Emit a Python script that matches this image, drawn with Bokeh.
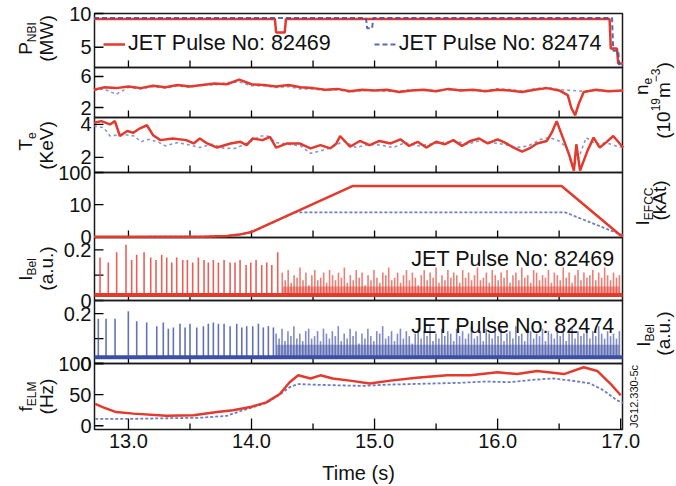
import numpy as np
from math import pi
from bokeh.plotting import figure
from bokeh.models import (Range1d, Label, LabelSet, ColumnDataSource, Legend, LegendItem)
from bokeh.embed import file_html
from bokeh.resources import INLINE
from bokeh.core.properties import value

FONT = "Liberation Sans"
RED = "#e23a2c"
BLUE = "#3d4fa3"
BLUE_LIGHT = "#6f7cbf"
INK = "#111111"

# ---------------- data ----------------
# NBI power (MW)
pnbi_t_82469 = [12.72, 14.19, 14.20, 14.27, 14.28, 16.91, 16.92, 16.97, 16.98, 17.02]
pnbi_82469 = [9.2, 9.2, 7.2, 7.2, 9.2, 9.2, 4.8, 4.8, 2.6, 2.6]
pnbi_t_82474 = [12.72, 14.93, 14.94, 14.98, 14.99, 16.93, 16.94, 16.98, 16.99, 17.02]
pnbi_82474 = [9.35, 9.35, 7.8, 7.8, 9.35, 9.35, 4.5, 4.5, 2.3, 2.3]

# line averaged density (10^19 m^-3)
ne_t_82469 = [12.72, 12.8, 12.9, 13.0, 13.1, 13.2, 13.3, 13.4, 13.5, 13.6, 13.7, 13.8,
              13.9, 14.0, 14.1, 14.2, 14.3, 14.4, 14.5, 14.6, 14.7, 14.8, 14.9, 15.0,
              15.1, 15.2, 15.3, 15.4, 15.5, 15.6, 15.7, 15.8, 15.9, 16.0, 16.1, 16.2,
              16.3, 16.4, 16.5, 16.57, 16.6, 16.63, 16.66, 16.7, 16.8, 16.9, 17.02]
ne_82469 = [4.3, 4.6, 4.5, 4.7, 4.5, 4.8, 4.6, 4.9, 4.7, 4.9, 5.1, 5.0,
            5.6, 5.0, 4.9, 4.7, 4.9, 4.6, 4.5, 4.3, 4.4, 4.1, 4.3, 4.2,
            4.3, 4.0, 4.2, 4.3, 4.1, 4.4, 4.2, 4.3, 4.1, 4.3, 4.2, 4.0,
            4.3, 4.5, 4.2, 3.6, 1.9, 1.0, 2.5, 4.0, 4.3, 4.1, 4.2]
ne_t_82474 = [12.72, 12.8, 12.9, 13.0, 13.1, 13.2, 13.3, 13.4, 13.5, 13.6, 13.7, 13.8,
              13.9, 14.0, 14.1, 14.2, 14.3, 14.4, 14.5, 14.6, 14.7, 14.8, 14.9, 15.0,
              15.1, 15.2, 15.3, 15.4, 15.5, 15.6, 15.7, 15.8, 15.9, 16.0, 16.1, 16.2,
              16.3, 16.4, 16.5, 16.6, 16.7, 16.8, 16.9, 17.02]
ne_82474 = [4.2, 4.4, 3.7, 4.6, 4.4, 4.7, 4.5, 4.8, 4.6, 5.0, 4.9, 5.2,
            5.3, 4.8, 4.8, 4.6, 4.7, 4.4, 4.4, 4.2, 4.3, 4.0, 4.2, 4.2,
            4.1, 4.1, 4.3, 4.2, 4.2, 4.3, 4.3, 4.2, 4.2, 4.4, 4.3, 4.1,
            4.4, 4.6, 4.3, 4.2, 4.1, 4.2, 4.1, 4.2]

# electron temperature (keV)
te_t_82469 = [12.72, 12.78, 12.85, 12.89, 12.93, 12.99, 13.04, 13.09, 13.15, 13.20,
              13.26, 13.36, 13.47, 13.53, 13.58, 13.64, 13.72, 13.83, 13.91, 13.96,
              14.01, 14.09, 14.15, 14.20, 14.29, 14.39, 14.48, 14.56, 14.64, 14.69,
              14.72, 14.80, 14.88, 14.96, 15.04, 15.13, 15.21, 15.28, 15.35, 15.42,
              15.50, 15.57, 15.64, 15.71, 15.78, 15.85, 15.92, 16.00, 16.06, 16.13,
              16.20, 16.27, 16.32, 16.40, 16.44, 16.48, 16.53, 16.58, 16.62, 16.64,
              16.67, 16.73, 16.78, 16.83, 16.88, 16.94, 17.02]
te_82469 = [4.1, 4.2, 4.0, 4.2, 3.3, 3.6, 3.5, 3.75, 3.95, 3.35,
            3.05, 3.15, 3.05, 2.85, 3.15, 2.85, 2.6, 2.85, 2.95, 2.75,
            3.15, 3.05, 3.25, 2.6, 2.85, 2.85, 2.55, 2.75, 2.55, 2.85,
            3.3, 2.65, 3.0, 2.75, 3.0, 2.85, 3.1, 2.7, 2.95, 2.6,
            2.95, 2.8, 3.05, 2.7, 3.0, 3.15, 2.85, 3.1, 2.9, 2.6,
            2.35, 2.6, 2.85, 3.0, 3.5, 4.2, 3.2, 2.2, 1.2, 2.8,
            1.2, 2.4, 3.2, 2.6, 2.9, 3.3, 2.6]
te_t_82474 = [12.72, 12.8, 12.85, 12.95, 13.05, 13.1, 13.17, 13.25, 13.3, 13.4,
              13.5, 13.58, 13.68, 13.78, 13.87, 13.93, 14.0, 14.07, 14.13, 14.2,
              14.3, 14.4, 14.48, 14.56, 14.65, 14.75, 14.85, 14.95, 15.05, 15.15,
              15.25, 15.35, 15.45, 15.55, 15.65, 15.75, 15.85, 15.95, 16.05, 16.15,
              16.25, 16.35, 16.42, 16.5, 16.56, 16.61, 16.66, 16.72, 16.8, 16.88,
              16.96, 17.02]
te_82474 = [3.9, 3.8, 3.3, 3.4, 3.3, 2.95, 3.1, 2.9, 2.7, 2.9,
            2.75, 2.6, 2.8, 2.55, 2.55, 2.75, 3.0, 3.3, 3.3, 2.9,
            2.8, 2.7, 2.25, 2.4, 2.6, 3.0, 2.6, 2.8, 2.75, 2.6,
            2.9, 2.7, 2.8, 2.9, 3.0, 2.8, 3.0, 2.9, 2.8, 2.6,
            2.7, 3.1, 3.2, 3.0, 2.6, 1.4, 2.0, 3.2, 2.8, 2.9,
            2.7, 2.6]

# error field correction coil current (kAt)
efcc_t_82469 = [12.72, 13.6, 13.8, 13.9, 14.0, 14.82, 16.52, 17.0, 17.02]
efcc_82469 = [0.0, 0.05, 0.3, 0.7, 1.5, 15.8, 15.8, 0.4, 0.3]
efcc_t_82474 = [12.72, 13.6, 13.8, 13.9, 14.0, 14.35, 16.55, 16.97, 17.02]
efcc_82474 = [0.0, 0.05, 0.3, 0.7, 1.5, 7.6, 7.6, 1.2, 0.6]

# Be I emission (a.u.): baseline level, ELM peaks and the level of the dense ELM band
bel_base_82469 = 0.022
bel_base_82474 = 0.025
band_82469 = 0.055
band_82474 = 0.075
elm_t_82469 = [12.769, 12.836, 12.904, 12.980, 13.026, 13.067, 13.127, 13.181,
               13.224, 13.270, 13.311, 13.352, 13.392, 13.441, 13.479, 13.522,
               13.568, 13.614, 13.649, 13.690, 13.731, 13.777, 13.826, 13.866,
               13.907, 13.956, 13.994, 14.037, 14.083, 14.124, 14.165, 14.213]
elm_82469 = [0.17, 0.15, 0.19, 0.22, 0.16, 0.18, 0.19, 0.17,
             0.16, 0.18, 0.17, 0.15, 0.17, 0.16, 0.16, 0.15,
             0.17, 0.16, 0.15, 0.16, 0.15, 0.16, 0.15, 0.15,
             0.16, 0.14, 0.15, 0.16, 0.14, 0.15, 0.14, 0.19]
dense_span_82469 = (14.25, 16.99)
dense_82469 = [0.11, 0.08, 0.12, 0.07, 0.10, 0.09, 0.13, 0.08, 0.11, 0.06, 0.10, 0.12, 0.08, 0.09, 0.11, 0.07, 0.12, 0.10, 0.08, 0.11,
               0.09, 0.13, 0.07, 0.10, 0.08, 0.12, 0.09, 0.11, 0.06, 0.10, 0.08, 0.12, 0.09, 0.07, 0.11, 0.10, 0.13, 0.08, 0.09, 0.11,
               0.07, 0.10, 0.12, 0.08, 0.11, 0.09, 0.06, 0.10, 0.12, 0.08, 0.11, 0.09, 0.13, 0.07, 0.10, 0.08, 0.12, 0.09, 0.11, 0.10,
               0.07, 0.12, 0.09, 0.11, 0.08, 0.10, 0.13, 0.08, 0.09, 0.11, 0.07, 0.12, 0.10, 0.08, 0.11, 0.09, 0.12, 0.07, 0.10, 0.11,
               0.08, 0.13, 0.09, 0.10, 0.07, 0.12, 0.11, 0.08, 0.10, 0.09, 0.12, 0.07, 0.11, 0.10, 0.08, 0.13, 0.09, 0.11, 0.07, 0.10,
               0.12, 0.08, 0.11, 0.09, 0.10, 0.12, 0.08, 0.11, 0.09, 0.13, 0.10, 0.08, 0.11, 0.09, 0.10]
elm_t_82474 = [12.755, 12.818, 12.891, 12.999, 13.067, 13.148, 13.230, 13.283,
               13.324, 13.365, 13.419, 13.460, 13.500, 13.555, 13.609, 13.649,
               13.690, 13.731, 13.777, 13.826, 13.880, 13.921, 13.961, 14.010,
               14.056, 14.096, 14.137, 14.178]
elm_82474 = [0.18, 0.18, 0.18, 0.21, 0.17, 0.165, 0.15, 0.165,
             0.14, 0.145, 0.16, 0.145, 0.16, 0.145, 0.15, 0.16,
             0.165, 0.16, 0.16, 0.15, 0.16, 0.145, 0.15, 0.15,
             0.16, 0.145, 0.15, 0.145]
dense_span_82474 = (14.20, 16.99)
dense_82474 = [0.12, 0.10, 0.14, 0.09, 0.13, 0.11, 0.15, 0.10, 0.12, 0.09, 0.13, 0.14, 0.10, 0.11, 0.13, 0.09, 0.14, 0.12, 0.10, 0.13,
               0.11, 0.15, 0.09, 0.12, 0.10, 0.14, 0.11, 0.13, 0.08, 0.12, 0.10, 0.14, 0.11, 0.09, 0.13, 0.12, 0.15, 0.10, 0.11, 0.13,
               0.09, 0.12, 0.14, 0.10, 0.13, 0.11, 0.08, 0.12, 0.14, 0.10, 0.13, 0.11, 0.15, 0.09, 0.12, 0.10, 0.14, 0.11, 0.13, 0.12,
               0.09, 0.14, 0.11, 0.13, 0.10, 0.12, 0.15, 0.10, 0.11, 0.13, 0.09, 0.14, 0.12, 0.10, 0.13, 0.11, 0.14, 0.09, 0.12, 0.13,
               0.10, 0.15, 0.11, 0.12, 0.09, 0.14, 0.13, 0.10, 0.12, 0.11, 0.14, 0.09, 0.13, 0.12, 0.10, 0.15, 0.11, 0.13, 0.09, 0.12,
               0.14, 0.10, 0.13, 0.11, 0.12, 0.14, 0.10, 0.13, 0.11, 0.15, 0.12, 0.10, 0.13, 0.11, 0.12, 0.10, 0.13]

# ELM frequency (Hz)
felm_t_82469 = [12.73, 12.79, 12.90, 13.04, 13.31, 13.53, 13.72, 13.85, 13.99, 14.12,
                14.23, 14.31, 14.38, 14.48, 14.56, 14.66, 14.80, 14.96, 15.13, 15.34,
                15.59, 15.78, 16.00, 16.16, 16.32, 16.54, 16.70, 16.81, 16.92, 17.00]
felm_82469 = [35, 30, 22, 19.5, 16, 17, 22, 25, 30, 37.5,
              51, 70, 81, 76, 81, 76, 72.5, 68, 72.5, 77,
              81, 81, 86, 83, 88, 83, 94, 88, 67, 49]
felm_t_82474 = [12.73, 13.0, 13.3, 13.6, 13.8, 13.9, 14.0, 14.12, 14.23, 14.31,
                14.38, 14.5, 14.7, 14.9, 15.1, 15.3, 15.5, 15.7, 15.9, 16.1,
                16.3, 16.45, 16.6, 16.75, 16.86, 16.97, 17.02]
felm_82474 = [11, 11, 12, 13, 16, 23, 29, 36.5, 50, 62,
              67, 66, 65, 64, 66, 67, 68, 69, 71, 70,
              74, 76, 72.5, 68, 57, 41, 36.5]

# axis ticks
x_major = [13.0, 14.0, 15.0, 16.0, 17.0]
x_minor = [13.5, 14.5, 15.5, 16.5]
x_labels = ["13.0", "14.0", "15.0", "16.0", "17.0"]
y_ticks = {
    "pnbi": ([5, 10], ["5", "10"]),
    "ne": ([2, 6], ["2", "6"]),
    "te": ([2, 4], ["2", "4"]),
    "efcc": ([0, 10, 20], ["0", "10", "100"]),
    "bel1": ([0, 0.1, 0.2], ["0", "", "0.2"]),
    "bel2": ([0, 0.1, 0.2], ["0", "", "0.2"]),
    "felm": ([0, 50, 100], ["0", "50", "100"]),
}

# ---------------- layout ----------------
W, H = 676, 486
PX_L, PX_R = 94, 622            # horizontal extent of the stacked panels
X0, X1 = 12.724, 17.015         # time window shown in the panels
sx = (PX_R - PX_L) / (X1 - X0)

# (data values at band bottom/top, band top/bottom in canvas pixels)
panels = {
    "pnbi": ((2.0, 10.0), (13, 67)),
    "ne": ((0.71, 7.16), (67, 117)),
    "te": ((1.09, 4.42), (117, 172)),
    "efcc": ((-0.2, 20.0), (172, 237)),
    "bel1": ((0.0, 0.2485), (237, 300)),
    "bel2": ((0.0, 0.253), (300, 363)),
    "felm": ((-6.0, 100.0), (363, 429)),
}

extra = {}
for name, ((d0, d1), (top, bot)) in panels.items():
    fb = (H - bot) / H
    ft = (H - top) / H
    span = (d1 - d0) / (ft - fb)
    start = d0 - fb * span
    extra[name] = Range1d(start, start + span)

p = figure(width=W, height=H, output_backend="svg", toolbar_location=None, title=None,
           x_range=Range1d(X0 - PX_L / sx, X1 + (W - PX_R) / sx),
           y_range=Range1d(0, H), x_axis_location=None, y_axis_location=None,
           min_border=0)
p.extra_y_ranges = extra
p.grid.visible = False
p.outline_line_color = None
p.background_fill_color = "white"
p.border_fill_color = "white"

EDGE = dict(line_color="#1a1a1a", line_width=1.5)
TICK = dict(line_color="black", line_width=1.3)

# panel frames, ticks and tick labels
for name, ((d0, d1), (top, bot)) in panels.items():
    p.quad(left=[X0], right=[X1], bottom=[d0], top=[d1], fill_color=None,
           y_range_name=name, **EDGE)
    if name == "felm":
        p.ray(x=x_major, y=[d0] * len(x_major), length=11, angle=pi / 2,
              length_units="screen", y_range_name=name, **TICK)
        p.ray(x=x_minor, y=[d0] * len(x_minor), length=6, angle=pi / 2,
              length_units="screen", y_range_name=name, **TICK)
        src = ColumnDataSource(dict(x=x_major, y=[d0] * len(x_major), text=x_labels))
        p.add_layout(LabelSet(x="x", y="y", text="text", source=src, y_range_name=name,
                              y_offset=-4, text_align="center", text_baseline="top",
                              text_font=value(FONT), text_font_size=value("20px"),
                              text_color=INK))
    else:
        ticks_x = x_major[:-1] + x_minor
        p.ray(x=ticks_x, y=[d0] * len(ticks_x), length=7, angle=pi / 2,
              length_units="screen", y_range_name=name, **TICK)
    vals, labs = y_ticks[name]
    p.ray(x=[X0] * len(vals), y=vals, length=9, angle=0, length_units="screen",
          y_range_name=name, **TICK)
    src = ColumnDataSource(dict(x=[X0] * len(vals), y=vals, text=labs))
    p.add_layout(LabelSet(x="x", y="y", text="text", source=src, y_range_name=name,
                          x_offset=-3, text_align="right", text_baseline="middle",
                          text_font=value(FONT), text_font_size=value("20px"),
                          text_color=INK))

p.add_layout(Label(x=(X0 + X1) / 2, y=H - 472, y_units="screen", text="Time (s)",
                   text_align="center", text_baseline="alphabetic", text_font=FONT,
                   text_font_size="20px", text_color=INK))

# traces
red_kw = dict(line_color=RED, line_width=2.5)
blue_kw = dict(line_color=BLUE_LIGHT, line_width=1.8, line_dash="3 2")
dot_kw = dict(line_color=BLUE_LIGHT, line_width=1.6, line_dash="3 3", line_alpha=0.8)

r_red = p.line(pnbi_t_82469, pnbi_82469, y_range_name="pnbi", **red_kw)
r_blue = p.line(pnbi_t_82474, pnbi_82474, y_range_name="pnbi",
                line_color=BLUE, line_width=2, line_dash="5 3", line_alpha=0.85)

p.line(ne_t_82474, ne_82474, y_range_name="ne", **dot_kw)
p.line(ne_t_82469, ne_82469, y_range_name="ne", **red_kw)

p.line(te_t_82474, te_82474, y_range_name="te", **dot_kw)
p.line(te_t_82469, te_82469, y_range_name="te", **red_kw)

p.line(efcc_t_82474, efcc_82474, y_range_name="efcc", **blue_kw)
p.line(efcc_t_82469, efcc_82469, y_range_name="efcc", **red_kw)

p.line(felm_t_82474, felm_82474, y_range_name="felm", **blue_kw)
p.line(felm_t_82469, felm_82469, y_range_name="felm", **red_kw)


def elm_trace(name, base, band, t_sparse, h_sparse, span, h_dense, color):
    p.segment(x0=t_sparse, y0=[base] * len(t_sparse), x1=t_sparse, y1=h_sparse,
              y_range_name=name, line_color=color, line_width=1.6, line_alpha=0.8)
    p.varea(x=list(span), y1=[base, base], y2=[band, band], y_range_name=name,
            fill_color=color, fill_alpha=0.45)
    t_dense = list(np.linspace(span[0], span[1], len(h_dense)))
    p.segment(x0=t_dense, y0=[base] * len(t_dense), x1=t_dense, y1=h_dense,
              y_range_name=name, line_color=color, line_width=1.6, line_alpha=0.65)
    p.line([X0, X1], [base, base], y_range_name=name, line_color=color, line_width=4)


elm_trace("bel1", bel_base_82469, band_82469, elm_t_82469, elm_82469,
          dense_span_82469, dense_82469, RED)
elm_trace("bel2", bel_base_82474, band_82474, elm_t_82474, elm_82474,
          dense_span_82474, dense_82474, BLUE)

# legend in the top panel
legend = Legend(items=[LegendItem(label="JET Pulse No: 82469", renderers=[r_red]),
                       LegendItem(label="JET Pulse No: 82474", renderers=[r_blue])],
                orientation="horizontal", location=(103, H - 56), spacing=43,
                label_standoff=3, glyph_width=22, glyph_height=20, label_height=20,
                padding=0, margin=0, background_fill_alpha=0, border_line_alpha=0,
                label_text_font=FONT, label_text_font_size="21.5px",
                label_text_color=INK)
p.add_layout(legend)

for txt, yb in (("JET Pulse No: 82469", 258), ("JET Pulse No: 82474", 325)):
    p.add_layout(Label(x=614, y=H - yb, x_units="screen", y_units="screen",
                       text=txt, text_align="right", text_baseline="alphabetic",
                       text_font=FONT, text_font_size="21.5px", text_color=INK))

# rotated quantity labels with sub/superscripts
CHAR_W = {"P": 667, "N": 722, "B": 667, "I": 278, "(": 333, ")": 333, "M": 833, "W": 944,
          "n": 556, "e": 556, "m": 833, "-": 333, "\u2212": 584, "T": 611, "K": 667,
          "V": 667, "E": 667, "F": 611, "C": 722, "k": 500, "A": 667, "t": 278, "l": 222,
          "a": 556, ".": 278, "u": 556, "f": 278, "L": 556, "H": 722, "z": 500, " ": 278,
          "G": 778, "J": 500, "c": 500}


def text_width(s, size):
    return sum(CHAR_W.get(c, 556) for c in s) / 1000 * size


def rotated_label(segments, base_x, center_y):
    total = sum(text_width(t, sz) for t, sz, _ in segments)
    y = center_y + total / 2
    for t, sz, shift in segments:
        p.add_layout(Label(x=base_x + shift, y=H - y, x_units="screen",
                           y_units="screen", text=t, angle=pi / 2, text_align="left",
                           text_baseline="alphabetic", text_font=FONT,
                           text_font_size=f"{sz}px", text_color=INK))
        y -= text_width(t, sz)


S, s = 19, 12
# left side
rotated_label([("P", S, 0), ("NBI", s, 6)], 25, 38)
rotated_label([("(MW)", S, 0)], 46, 38)
rotated_label([("T", S, 0), ("e", s, 6)], 25, 141)
rotated_label([("(KeV)", S, 0)], 46, 145)
rotated_label([("I", S, 0), ("Bel", s, 6)], 25, 269)
rotated_label([("(a.u.)", S, 0)], 46, 268)
rotated_label([("f", S, 0), ("ELM", s, 6)], 25, 396)
rotated_label([("(Hz)", S, 0)], 46, 396)
# right side
rotated_label([("n", S, 0), ("e", s, 6)], 641, 86)
rotated_label([("(10", S, 0), ("19", s, -8), ("m", S, 0), ("\u22123", s, -8), (")", S, 0)], 663, 100)
rotated_label([("I", S, 0), ("EFCC", s, 6)], 642, 206)
rotated_label([("(kAt)", S, 0)], 659, 200)
rotated_label([("I", S, 0), ("Bel", s, 6)], 643, 335)
rotated_label([("(a.u.)", S, 0)], 663, 333)
rotated_label([("JG12.330-5c", 11, 0)], 633, 396)

open("out.html", "w").write(file_html(p, INLINE))
